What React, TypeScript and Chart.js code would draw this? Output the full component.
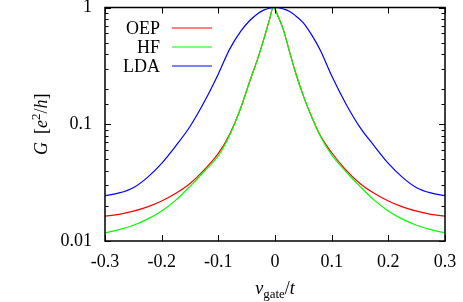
import React, { useEffect, useRef } from "react";
import { Chart, registerables } from "chart.js";

Chart.register(...registerables);

// ---- Data ----
const xValues = [
  -0.3, -0.275, -0.25, -0.225, -0.2, -0.175, -0.15, -0.125, -0.1, -0.08, -0.06, -0.045, -0.03, -0.02, -0.01,
  -0.003, 0.005, 0.015, 0.025, 0.035, 0.05, 0.065, 0.08, 0.1, 0.125, 0.15, 0.175, 0.2, 0.225, 0.25, 0.275, 0.3,
];
const oepValues = [
  0.0163, 0.0169, 0.018, 0.0196, 0.022, 0.0256, 0.0311, 0.0407, 0.0562, 0.0822, 0.14, 0.23, 0.37, 0.53, 0.78,
  1.0, 0.85, 0.64, 0.43, 0.29, 0.175, 0.115, 0.08, 0.057, 0.0407, 0.0311, 0.0256, 0.022, 0.0196, 0.018, 0.0169, 0.0163,
];
const hfValues = [
  0.01175, 0.0125, 0.01365, 0.0154, 0.0181, 0.0224, 0.0294, 0.0394, 0.0537, 0.0804, 0.14, 0.23, 0.37, 0.53, 0.78,
  1.0, 0.85, 0.64, 0.43, 0.29, 0.175, 0.115, 0.079, 0.0545, 0.0394, 0.0294, 0.0224, 0.0181, 0.0154, 0.01365, 0.0125,
  0.01175,
];
const ldaValues = [
  0.0245, 0.0258, 0.0286, 0.0351, 0.0462, 0.0653, 0.0957, 0.155, 0.27, 0.44, 0.63, 0.77, 0.89, 0.95, 0.985,
  1.0, 0.995, 0.97, 0.93, 0.86, 0.74, 0.58, 0.43, 0.26, 0.15, 0.094, 0.0653, 0.0462, 0.0351, 0.0286, 0.0258, 0.0245,
];
const seriesLabels = ["OEP", "HF", "LDA"];
const seriesColors = ["#ff0000", "#00ff00", "#0000ff"];
const xTickValues = [-0.3, -0.2, -0.1, 0, 0.1, 0.2, 0.3];
const yDecadeLabels = ["0.01", "0.1", "1"];

const FONT = "'Liberation Serif', 'DejaVu Serif', serif";

function isDecade(v: number) {
  const l = Math.log10(v);
  return Math.abs(l - Math.round(l)) < 1e-6;
}

const framePlugin = {
  id: "frameTicks",
  afterDatasetsDraw(chart: any) {
    const { ctx, chartArea } = chart;
    const { left, right, top, bottom } = chartArea;
    const xs = chart.scales.x;
    const ys = chart.scales.y;
    ctx.save();
    ctx.strokeStyle = "#000";
    ctx.lineWidth = 1;
    ctx.beginPath();
    for (const t of xs.ticks) {
      const px = Math.round(xs.getPixelForValue(t.value)) + 0.5;
      ctx.moveTo(px, bottom);
      ctx.lineTo(px, bottom - 6);
      ctx.moveTo(px, top);
      ctx.lineTo(px, top + 6);
    }
    for (const t of ys.ticks) {
      const py = Math.round(ys.getPixelForValue(t.value)) + 0.5;
      const len = isDecade(t.value) ? 6 : 3.5;
      ctx.moveTo(left, py);
      ctx.lineTo(left + len, py);
      ctx.moveTo(right, py);
      ctx.lineTo(right - len, py);
    }
    ctx.stroke();
    ctx.lineWidth = 1.5;
    ctx.strokeRect(left, top, right - left, bottom - top);
    ctx.restore();
  },
};

type Piece = { t: string; italic?: boolean; size?: number; dy?: number; gap?: number };

function drawPieces(ctx: CanvasRenderingContext2D, pieces: Piece[], cx: number, baseline: number) {
  const fontOf = (p: Piece) => `${p.italic ? "italic " : ""}${p.size || 18}px ${FONT}`;
  let total = 0;
  const widths: number[] = [];
  for (const p of pieces) {
    ctx.font = fontOf(p);
    const w = ctx.measureText(p.t).width + (p.gap || 0);
    widths.push(w);
    total += w;
  }
  let x = cx - total / 2;
  ctx.textAlign = "left";
  ctx.textBaseline = "alphabetic";
  pieces.forEach((p, i) => {
    ctx.font = fontOf(p);
    ctx.fillText(p.t, x, baseline + (p.dy || 0));
    x += widths[i];
  });
}

const titlesPlugin = {
  id: "axisTitlesLegend",
  afterDraw(chart: any) {
    const { ctx, chartArea } = chart;
    ctx.save();
    ctx.fillStyle = "#000";
    // x-axis title
    const cx = (chartArea.left + chartArea.right) / 2;
    drawPieces(
      ctx,
      [
        { t: "v", italic: true },
        { t: "gate", size: 13, dy: 3.5 },
        { t: "/" },
        { t: "t", italic: true },
      ],
      cx,
      294
    );
    // y-axis title
    ctx.save();
    ctx.translate(47, (chartArea.top + chartArea.bottom) / 2);
    ctx.rotate(-Math.PI / 2);
    drawPieces(
      ctx,
      [
        { t: "G", italic: true, gap: 8 },
        { t: "[" },
        { t: "e", italic: true },
        { t: "2", size: 13, dy: -7 },
        { t: "/" },
        { t: "h", italic: true },
        { t: "]" },
      ],
      0,
      0
    );
    ctx.restore();
    // legend
    chart.data.datasets.forEach((ds: any, i: number) => {
      const y = 28 + i * 19;
      ctx.font = `18px ${FONT}`;
      ctx.textAlign = "right";
      ctx.textBaseline = "middle";
      ctx.fillStyle = "#000";
      ctx.fillText(ds.label, 160, y + 1);
      ctx.strokeStyle = ds.borderColor;
      ctx.lineWidth = 1.2;
      ctx.beginPath();
      ctx.moveTo(172, y);
      ctx.lineTo(212, y);
      ctx.stroke();
    });
    ctx.restore();
  },
};

export default function App() {
  const canvasRef = useRef<HTMLCanvasElement | null>(null);

  useEffect(() => {
    const canvas = canvasRef.current;
    if (!canvas) return;
    const series = [oepValues, hfValues, ldaValues];
    const chart = new Chart(canvas, {
      type: "line",
      data: {
        datasets: series.map((vals, i) => ({
          label: seriesLabels[i],
          data: xValues.map((x, j) => ({ x, y: vals[j] })),
          borderColor: seriesColors[i],
          backgroundColor: seriesColors[i],
          borderWidth: 1.2,
          pointRadius: 0,
          cubicInterpolationMode: "monotone" as const,
          fill: false,
          order: 3 - i,
        })),
      },
      options: {
        animation: false,
        responsive: false,
        devicePixelRatio: 1,
        layout: { padding: { left: 0, top: 7.5, right: 18, bottom: 0 } },
        plugins: {
          legend: { display: false },
          tooltip: { enabled: false },
          title: { display: false },
        },
        scales: {
          x: {
            type: "linear",
            min: -0.3,
            max: 0.3,
            afterBuildTicks(scale: any) {
              scale.ticks = xTickValues.map((v) => ({ value: v }));
            },
            ticks: {
              autoSkip: false,
              maxRotation: 0,
              padding: 10,
              color: "#000",
              font: { family: FONT, size: 18 },
              callback: (v: any) => {
                const r = Math.round(Number(v) * 10) / 10;
                return r === 0 ? "0" : String(r);
              },
            },
            grid: { display: false, drawTicks: false },
            border: { display: false },
            afterFit(scale: any) {
              scale.height = 61;
              scale.paddingLeft = 0;
              scale.paddingRight = 0;
            },
          },
          y: {
            type: "logarithmic",
            min: 0.01,
            max: 1,
            ticks: {
              autoSkip: false,
              padding: 13,
              color: "#000",
              font: { family: FONT, size: 18 },
              callback: (v: any) => {
                const n = Number(v);
                if (!isDecade(n)) return "";
                const idx = Math.round(Math.log10(n)) + 2;
                return yDecadeLabels[idx] ?? "";
              },
            },
            grid: { display: false, drawTicks: false },
            border: { display: false },
            afterFit(scale: any) {
              scale.width = 105;
              scale.paddingTop = 0;
              scale.paddingBottom = 0;
            },
          },
        },
      },
      plugins: [framePlugin, titlesPlugin],
    });
    return () => chart.destroy();
  }, []);

  return (
    <div style={{ position: "absolute", left: 0, top: 0, width: 463, height: 302, background: "#fff" }}>
      <canvas ref={canvasRef} width={463} height={302} style={{ display: "block", width: 463, height: 302 }} />
    </div>
  );
}
